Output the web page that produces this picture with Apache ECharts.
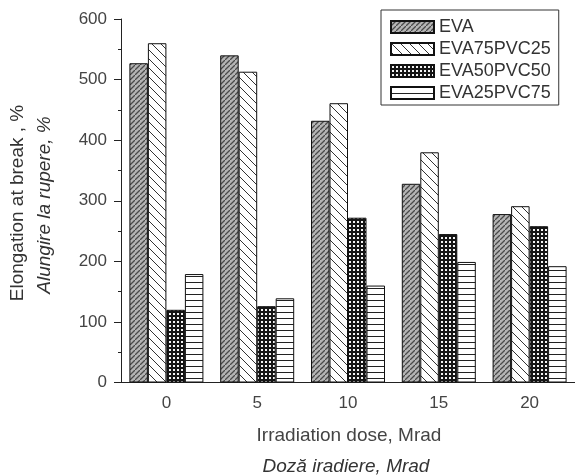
<!DOCTYPE html>
<html>
<head>
<meta charset="utf-8">
<script src="https://cdn.jsdelivr.net/npm/echarts@6/dist/echarts.min.js"></script>
<style>
  html, body { margin: 0; padding: 0; background: #fff; }
  #chart { width: 575px; height: 476px; }
</style>
</head>
<body>
<div id="chart"></div>
<script>
// Irradiation doses (Mrad)
const doses = ['0', '5', '10', '15', '20'];
// Elongation at break (%) per blend
const seriesNames = ['EVA', 'EVA75PVC25', 'EVA50PVC50', 'EVA25PVC75'];
const eva        = [527, 540, 432, 328, 278];
const eva75pvc25 = [560, 513, 461, 380, 291];
const eva50pvc50 = [120, 126, 272, 245, 258];
const eva25pvc75 = [179, 139, 160, 199, 192];
const yTicks = [0, 100, 200, 300, 400, 500, 600];

const FONT = '"Liberation Sans", Arial, sans-serif';

// Hatch fills drawn on small tiles and repeated
function tile(w, h, draw) {
  const c = document.createElement('canvas');
  c.width = w; c.height = h;
  draw(c.getContext('2d'), w, h);
  return { image: c, repeat: 'repeat' };
}
const fillEva = tile(5, 5, (g, w, h) => {
  g.fillStyle = '#b4b4b4'; g.fillRect(0, 0, w, h);
  g.strokeStyle = '#4a4a4a'; g.lineWidth = 1.3;
  g.beginPath();
  g.moveTo(-1, h + 1); g.lineTo(w + 1, -1);
  g.moveTo(-2, 1); g.lineTo(1, -2);
  g.moveTo(w - 1, h + 2); g.lineTo(w + 2, h - 1);
  g.stroke();
});
const fillEva75 = tile(9, 9, (g, w, h) => {
  g.fillStyle = '#fff'; g.fillRect(0, 0, w, h);
  g.strokeStyle = '#333'; g.lineWidth = 1;
  g.beginPath();
  g.moveTo(-1, -1); g.lineTo(w + 1, h + 1);
  g.moveTo(-2, h - 2); g.lineTo(2, h + 2);
  g.moveTo(w - 2, -2); g.lineTo(w + 2, 2);
  g.stroke();
});
const fillEva50 = tile(4, 4, (g, w, h) => {
  g.fillStyle = '#151515'; g.fillRect(0, 0, w, h);
  g.fillStyle = '#f4f4f4'; g.fillRect(1, 1, 2, 2);
});
const fillEva25 = tile(4, 6, (g, w, h) => {
  g.fillStyle = '#fff'; g.fillRect(0, 0, w, h);
  g.fillStyle = '#222'; g.fillRect(0, 0, w, 1);
});

const fills = [fillEva, fillEva75, fillEva50, fillEva25];
const values = [eva, eva75pvc25, eva50pvc50, eva25pvc75];

const chart = echarts.init(document.getElementById('chart'), null, { renderer: 'canvas' });

const axisColor = '#222';
const labelColor = '#444';

chart.setOption({
  animation: false,
  backgroundColor: '#fff',
  grid: { left: 121, top: 19, width: 457, height: 363.5, containLabel: false },
  legend: {
    orient: 'vertical',
    left: 381, top: 10,
    padding: [8, 8, 3, 9],
    itemWidth: 43, itemHeight: 12, itemGap: 4, itemTextGap: 4,
    borderColor: '#333', borderWidth: 1,
    icon: 'rect',
    data: seriesNames,
    textStyle: { fontFamily: FONT, fontSize: 18, color: '#333' }
  },
  xAxis: [{
    type: 'category',
    data: doses,
    boundaryGap: true,
    axisLine: { lineStyle: { color: axisColor, width: 1 } },
    axisTick: { alignWithLabel: true, length: 6, lineStyle: { color: axisColor } },
    axisLabel: { margin: 12, fontFamily: FONT, fontSize: 17, color: labelColor },
    splitLine: { show: false }
  }, {
    // boundary ticks between dose groups
    type: 'category',
    data: doses,
    position: 'bottom',
    boundaryGap: true,
    axisLine: { show: false },
    axisTick: { length: 3, lineStyle: { color: axisColor } },
    axisLabel: { show: false },
    splitLine: { show: false }
  }],
  yAxis: {
    type: 'value',
    min: yTicks[0], max: yTicks[yTicks.length - 1], interval: 100,
    axisLine: { show: true, lineStyle: { color: axisColor, width: 1 } },
    axisTick: { show: true, length: 7, lineStyle: { color: axisColor } },
    minorTick: { show: true, splitNumber: 2, length: 3, lineStyle: { color: axisColor } },
    axisLabel: { margin: 14, fontFamily: FONT, fontSize: 17, color: labelColor },
    splitLine: { show: false }
  },
  series: seriesNames.map((name, i) => ({
    name,
    type: 'bar',
    xAxisIndex: 0,
    data: values[i],
    barWidth: 18.5,
    barGap: '0%',
    itemStyle: { color: fills[i], borderColor: '#111', borderWidth: 1 },
    emphasis: { disabled: true }
  })),
  graphic: [
    {
      type: 'text', x: 18, y: 203, rotation: Math.PI / 2,
      style: { text: 'Elongation at break , %', fontFamily: FONT, fontSize: 19,
               fill: '#333', align: 'center', verticalAlign: 'middle' }
    },
    {
      type: 'text', x: 45, y: 205, rotation: Math.PI / 2,
      style: { text: 'Alungire la rupere, %', fontFamily: FONT, fontSize: 19, fontStyle: 'italic',
               fill: '#333', align: 'center', verticalAlign: 'middle' }
    },
    {
      type: 'text', x: 349, y: 436,
      style: { text: 'Irradiation dose, Mrad', fontFamily: FONT, fontSize: 19,
               fill: '#444', align: 'center', verticalAlign: 'middle' }
    },
    {
      type: 'text', x: 346, y: 467,
      style: { text: 'Doză iradiere, Mrad', fontFamily: FONT, fontSize: 19, fontStyle: 'italic',
               fill: '#333', align: 'center', verticalAlign: 'middle' }
    }
  ]
});
</script>
</body>
</html>
